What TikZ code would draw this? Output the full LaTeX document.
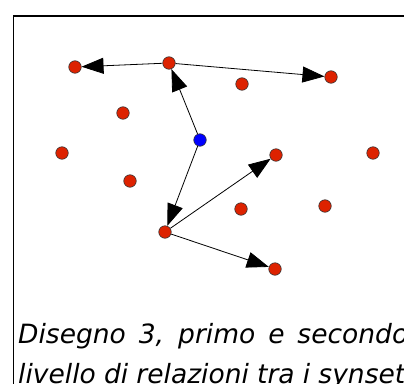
\documentclass[tikz,border=0pt]{standalone}
\usepackage{fontspec}
\setmainfont{DejaVu Sans}[ItalicFont={DejaVu Sans Oblique}]
\usetikzlibrary{arrows.meta}
\definecolor{synRed}{HTML}{DD2200}
\definecolor{rootBlue}{HTML}{0000FF}

\begin{document}
\begin{tikzpicture}[x=1pt, y=-1pt,
        synset/.style={circle, draw=black!80, fill=synRed, line width=0.6pt, minimum size=12.5pt, inner sep=0pt},
        root/.style={synset, fill=rootBlue},
        rel/.style={-{Triangle[length=22pt, width=16pt]}, line width=0.8pt},
        caption/.style={anchor=base west, inner sep=0pt, font=\fontsize{26.5}{32}\selectfont\itshape}
      ]
      \useasboundingbox (0,0) rectangle (404,383);
      \clip (0,0) rectangle (404,383);
      \draw[line width=1.1pt] (13.5,420) -- (13.5,16) -- (420,16);
      % synsets
      \foreach \n/\x/\y in {a/75/67, b/169/63, c/331/77, d/242/84, e/123/113, f/62/153, g/276/155,
                            h/373/153, i/130/181, j/165/232, k/241/209, l/325/206, m/275/269} {
         \node[synset] (\n) at (\x,\y) {};
      }
      \node[root] (r) at (200,140) {};
      % relations
      \draw[rel] (r) -- (b);
      \draw[rel] (r) -- (j);
      \draw[rel] (b) -- (a);
      \draw[rel] (b) -- (c);
      \draw[rel] (j) -- (g);
      \draw[rel] (j) -- (m);
      \node[caption] (cap1) at (18,343) {\makebox[390pt][s]{Disegno 3, primo e secondo}};
      \node[caption] (cap2) at (18,383) {\makebox[387pt][s]{livello di relazioni tra i synset}};
    \end{tikzpicture}
\end{document}
